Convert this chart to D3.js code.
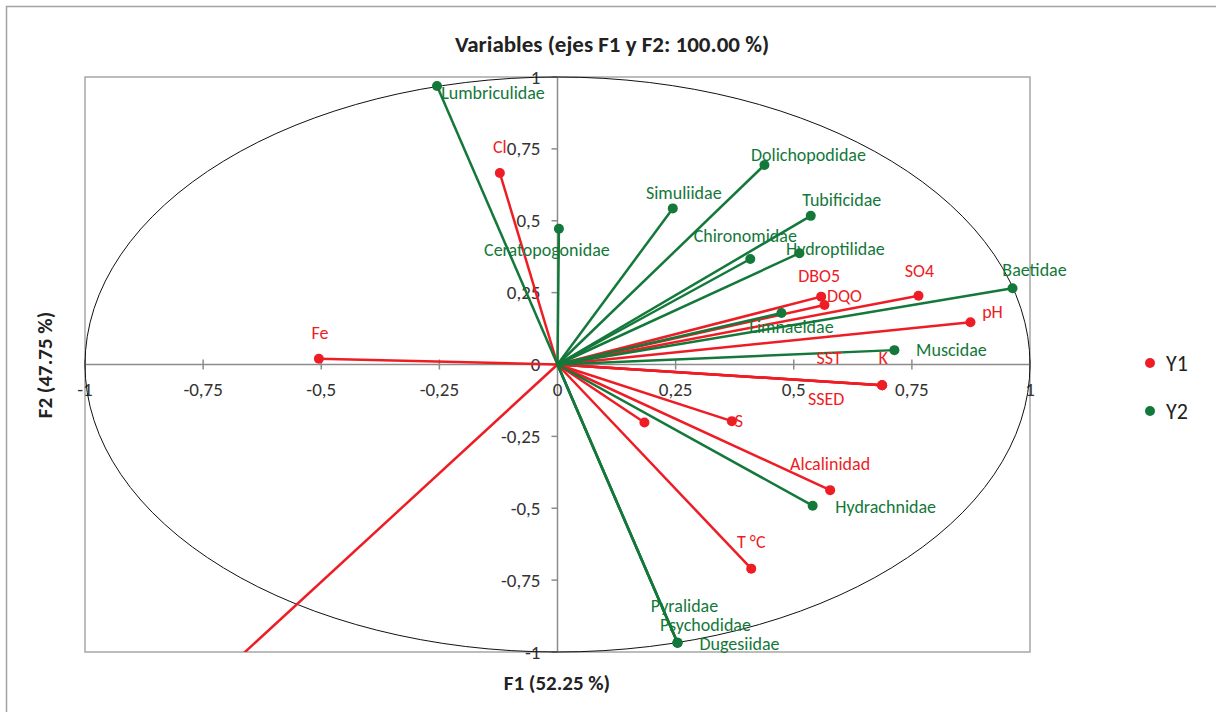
<!DOCTYPE html>
<html>
<head>
<meta charset="utf-8">
<script src="https://cdn.jsdelivr.net/npm/d3@7"></script>
<style>
  html, body { margin: 0; padding: 0; background: #fff; }
  svg { display: block; font-family: Carlito, Calibri, Lato, sans-serif; }
</style>
</head>
<body>
<svg id="chart" width="1216" height="712"></svg>
<script>
// Y1: physico-chemical variables
const y1Names = ['Cl', 'Fe', 'DBO5', 'DQO', 'SO4', 'pH', 'SST', 'K', 'SSED', 'S', '', 'Alcalinidad', 'T °C', ''];
const y1F1 = [-0.122, -0.505, 0.558, 0.565, 0.764, 0.874, 0.687, 0.687, 0.687, 0.369, 0.184, 0.577, 0.410, -0.82];
const y1F2 = [0.666, 0.020, 0.236, 0.207, 0.239, 0.147, -0.072, -0.072, -0.072, -0.197, -0.202, -0.437, -0.710, -1.24];

// Y2: families
const y2Names = ['Lumbriculidae', 'Ceratopogonidae', 'Dolichopodidae', 'Simuliidae', 'Tubificidae', 'Chironomidae',
  'Hydroptilidae', 'Baetidae', 'Limnaeidae', 'Muscidae', 'Hydrachnidae', 'Pyralidae', 'Psychodidae', 'Dugesiidae'];
const y2F1 = [-0.255, 0.003, 0.438, 0.244, 0.536, 0.408, 0.512, 0.963, 0.474, 0.713, 0.540, 0.254, 0.254, 0.254];
const y2F2 = [0.969, 0.472, 0.694, 0.543, 0.517, 0.367, 0.387, 0.265, 0.179, 0.050, -0.491, -0.968, -0.968, -0.968];

const ticks = [-1, -0.75, -0.5, -0.25, 0, 0.25, 0.5, 0.75, 1];
const seriesNames = ['Y1', 'Y2'];

// label placement (text centre relative to the point, px)
const labelShift = {
  'Cl': [0, -26], 'Fe': [1, -26], 'DBO5': [-2, -21], 'DQO': [20, -9], 'SO4': [1, -25], 'pH': [22, -10],
  'SST': [-53, -27], 'K': [1, -27], 'SSED': [-56, 14], 'S': [7, 0], 'Alcalinidad': [0, -26], 'T °C': [0, -27],
  'Lumbriculidae': [56, 7], 'Ceratopogonidae': [-12, 21], 'Dolichopodidae': [44, -10], 'Simuliidae': [11, -15],
  'Tubificidae': [31, -16], 'Chironomidae': [-5, -23], 'Hydroptilidae': [36, -4], 'Baetidae': [22, -18],
  'Limnaeidae': [10, 14], 'Muscidae': [57, 0], 'Hydrachnidae': [73, 1], 'Pyralidae': [7, -37],
  'Psychodidae': [28, -18], 'Dugesiidae': [62, 1],
};

const RED = '#ee1d25';
const GREEN = '#13783a';
const colors = [RED, GREEN];

const svg = d3.select('#chart');
const plot = { left: 85, right: 1030, top: 77, bottom: 652 };

const x = d3.scaleLinear().domain([-1, 1]).range([plot.left, plot.right]);
const y = d3.scaleLinear().domain([-1, 1]).range([plot.bottom, plot.top]);
const fmt = v => String(v).replace('.', ',');

// outer chart border
svg.append('rect').attr('x', 6.5).attr('y', 6.5).attr('width', 1300).attr('height', 800)
  .attr('fill', '#fff').attr('stroke', '#a3a3a3').attr('stroke-width', 1.5);

// title
svg.append('text').attr('x', 612).attr('y', 44).attr('text-anchor', 'middle')
  .attr('dominant-baseline', 'central').attr('fill', '#222')
  .style('font-size', '23px').style('font-weight', '700')
  .text('Variables (ejes F1 y F2: 100.00 %)');

// plot frame
svg.append('rect').attr('x', plot.left).attr('y', plot.top)
  .attr('width', plot.right - plot.left).attr('height', plot.bottom - plot.top)
  .attr('fill', 'none').attr('stroke', '#a6a6a6').attr('stroke-width', 1.5);

svg.append('defs').append('clipPath').attr('id', 'plot-clip')
  .append('rect').attr('x', plot.left).attr('y', plot.top)
  .attr('width', plot.right - plot.left).attr('height', plot.bottom - plot.top);

// zero axes
svg.append('line').attr('x1', plot.left).attr('x2', plot.right).attr('y1', y(0)).attr('y2', y(0))
  .attr('stroke', '#8c8c8c').attr('stroke-width', 1.5);
svg.append('line').attr('x1', x(0)).attr('x2', x(0)).attr('y1', plot.top).attr('y2', plot.bottom)
  .attr('stroke', '#8c8c8c').attr('stroke-width', 1.5);

// ticks on x axis (cross)
svg.selectAll('.xtick').data(ticks).enter().append('line')
  .attr('x1', d => x(d)).attr('x2', d => x(d)).attr('y1', y(0) - 5).attr('y2', y(0) + 5)
  .attr('stroke', '#8c8c8c').attr('stroke-width', 1.5);
svg.selectAll('.xlbl').data(ticks).enter().append('text')
  .attr('x', d => x(d)).attr('y', y(0) + 25).attr('text-anchor', 'middle')
  .attr('dominant-baseline', 'central').attr('fill', '#333').style('font-size', '19px')
  .text(fmt);

// ticks on y axis (left)
svg.selectAll('.ytick').data(ticks).enter().append('line')
  .attr('x1', x(0) - 6).attr('x2', x(0)).attr('y1', d => y(d)).attr('y2', d => y(d))
  .attr('stroke', '#8c8c8c').attr('stroke-width', 1.5);
svg.selectAll('.ylbl').data(ticks).enter().append('text')
  .attr('x', x(0) - 17).attr('y', d => y(d)).attr('text-anchor', 'end')
  .attr('dominant-baseline', 'central').attr('fill', '#333').style('font-size', '19px')
  .text(fmt);

// axis titles
svg.append('text').attr('x', 557).attr('y', 683).attr('text-anchor', 'middle')
  .attr('dominant-baseline', 'central').attr('fill', '#222')
  .style('font-size', '21px').style('font-weight', '700').text('F1 (52.25 %)');
svg.append('text').attr('transform', `translate(45,365) rotate(-90)`).attr('text-anchor', 'middle')
  .attr('dominant-baseline', 'central').attr('fill', '#222')
  .style('font-size', '21px').style('font-weight', '700').text('F2 (47.75 %)');

// correlation circle
svg.append('ellipse').attr('cx', x(0)).attr('cy', y(0))
  .attr('rx', x(1) - x(0)).attr('ry', y(0) - y(1))
  .attr('fill', 'none').attr('stroke', '#111').attr('stroke-width', 1);

const g = svg.append('g').attr('clip-path', 'url(#plot-clip)');

const series = [
  { names: y1Names, f1: y1F1, f2: y1F2 },
  { names: y2Names, f1: y2F1, f2: y2F2 },
];

series.forEach((s, si) => {
  const pts = s.names.map((n, i) => ({ name: n, f1: s.f1[i], f2: s.f2[i] }));
  g.selectAll(null).data(pts).enter().append('line')
    .attr('x1', x(0)).attr('y1', y(0))
    .attr('x2', d => x(d.f1)).attr('y2', d => y(d.f2))
    .attr('stroke', colors[si]).attr('stroke-width', 2.5);
  g.selectAll(null).data(pts).enter().append('circle')
    .attr('cx', d => x(d.f1)).attr('cy', d => y(d.f2)).attr('r', 5)
    .attr('fill', colors[si]);
});

series.forEach((s, si) => {
  const pts = s.names.map((n, i) => ({ name: n, f1: s.f1[i], f2: s.f2[i] })).filter(d => d.name);
  svg.selectAll(null).data(pts).enter().append('text')
    .attr('x', d => x(d.f1) + (labelShift[d.name] || [0, -20])[0])
    .attr('y', d => y(d.f2) + (labelShift[d.name] || [0, -20])[1])
    .attr('text-anchor', 'middle').attr('dominant-baseline', 'central')
    .attr('fill', colors[si]).style('font-size', '18px')
    .text(d => d.name);
});

// legend
const lg = svg.append('g').attr('transform', 'translate(1150,363)');
seriesNames.forEach((n, i) => {
  lg.append('circle').attr('cx', 0).attr('cy', i * 48).attr('r', 5).attr('fill', colors[i]);
  lg.append('text').attr('x', 16).attr('y', i * 48).attr('dominant-baseline', 'central')
    .attr('fill', '#222').style('font-size', '22px').text(n);
});
</script>
</body>
</html>
